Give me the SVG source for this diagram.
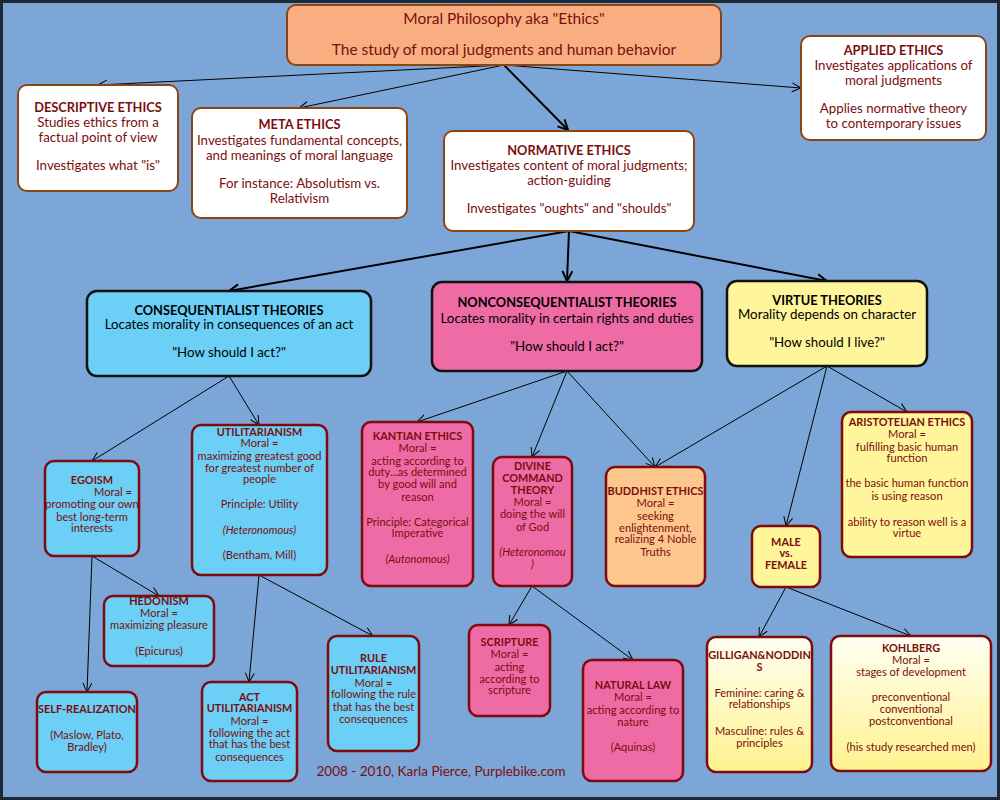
<svg xmlns="http://www.w3.org/2000/svg" width="1000" height="800" viewBox="0 0 1000 800">
<defs>
<style>
.bg{fill:#7BA6D7;stroke:#1f2a36;stroke-width:3}
.root{fill:#F9AE82;stroke:#8B4513;stroke-width:2}
.top{fill:#fff;stroke:#8B4513;stroke-width:2}
.th{stroke:#111;stroke-width:2.5}
.leaf{stroke:#7f0a0a;stroke-width:2.5}
.blue{fill:#6BCFF6}.pink{fill:#EE6BA6}.yel{fill:#FFF59B}.org{fill:#FDC68D}.grad{fill:url(#gy)}
text{font-family:Lato,"Liberation Sans",sans-serif;text-anchor:middle}
.r{font-size:15.5px;fill:#7a0e0e}
.a{font-size:13.3px;fill:#7a0e0e}
.ab{font-size:12.8px;fill:#7a0e0e;font-weight:bold}
.b{font-size:13.3px;fill:#000}
.bb{font-size:12.8px;fill:#000;font-weight:bold}
.c{font-size:11.1px;fill:#7a0e0e}
.cb{font-size:10.9px;fill:#7a0e0e;font-weight:bold}
.ci{font-size:11.1px;fill:#7a0e0e;font-style:italic}
.cr{font-size:13.5px;fill:#7a0e0e}
.ln{stroke:#000;stroke-width:1;fill:none;marker-end:url(#ah)}
.lt{stroke:#000;stroke-width:2;fill:none;marker-end:url(#ahb)}
</style>
<linearGradient id="gy" x1="0" y1="0" x2="0" y2="1">
<stop offset="0" stop-color="#FFFFF2"/>
<stop offset="1" stop-color="#FFF28E"/>
</linearGradient>
<marker id="ah" markerUnits="userSpaceOnUse" markerWidth="12" markerHeight="12" refX="10" refY="5" orient="auto" viewBox="0 0 12 10">
<path d="M1,0.5 L10,5 L1,9.5" fill="none" stroke="#000" stroke-width="1"/>
</marker>
<marker id="ahb" markerUnits="userSpaceOnUse" markerWidth="14" markerHeight="14" refX="11" refY="6" orient="auto" viewBox="0 0 14 12">
<path d="M1,1 L11,6 L1,11" fill="none" stroke="#000" stroke-width="2"/>
</marker>
</defs>
<rect class="bg" x="1.5" y="1.5" width="997" height="797"/>

<g id="connectors">
<line class="ln" x1="504" y1="65" x2="98" y2="85"/>
<line class="ln" x1="504" y1="65" x2="299" y2="108"/>
<line class="lt" x1="504" y1="65" x2="568" y2="130"/>
<line class="ln" x1="504" y1="65" x2="801" y2="88"/>
<line class="lt" x1="569" y1="231" x2="229" y2="291"/>
<line class="lt" x1="569" y1="231" x2="567" y2="281"/>
<line class="lt" x1="569" y1="231" x2="827" y2="281"/>
<line class="ln" x1="229" y1="376" x2="92" y2="461"/>
<line class="ln" x1="229" y1="376" x2="259" y2="425"/>
<line class="ln" x1="92" y1="556" x2="159" y2="596"/>
<line class="ln" x1="92" y1="556" x2="87" y2="692"/>
<line class="ln" x1="259" y1="575" x2="249" y2="682"/>
<line class="ln" x1="259" y1="575" x2="373" y2="636"/>
<line class="ln" x1="567" y1="371" x2="417" y2="422"/>
<line class="ln" x1="567" y1="371" x2="532" y2="457"/>
<line class="ln" x1="567" y1="371" x2="655" y2="467"/>
<line class="ln" x1="827" y1="366" x2="655" y2="467"/>
<line class="ln" x1="827" y1="366" x2="786" y2="526"/>
<line class="ln" x1="827" y1="366" x2="907" y2="412"/>
<line class="ln" x1="532" y1="586" x2="509" y2="625"/>
<line class="ln" x1="532" y1="586" x2="633" y2="660"/>
<line class="ln" x1="786" y1="587" x2="759" y2="637"/>
<line class="ln" x1="786" y1="587" x2="911" y2="636"/>
</g>

<g id="root">
<rect class="root" x="287" y="5" width="434" height="60" rx="9"/>
<text class="r" x="504" y="23.5">Moral Philosophy aka "Ethics"</text>
<text class="r" x="504" y="54.5">The study of moral judgments and human behavior</text>
</g>

<g id="descriptive">
<rect class="top" x="18" y="85" width="160" height="106" rx="9"/>
<text class="ab" x="98" y="111.5">DESCRIPTIVE ETHICS</text>
<text class="a" x="98" y="126.5">Studies ethics from a</text>
<text class="a" x="98" y="141.5">factual point of view</text>
<text class="a" x="98" y="169.5">Investigates what "is"</text>
</g>

<g id="meta">
<rect class="top" x="192" y="108" width="215" height="110" rx="9"/>
<text class="ab" x="299.5" y="128.5">META ETHICS</text>
<text class="a" x="299.5" y="144.5">Investigates fundamental concepts,</text>
<text class="a" x="299.5" y="159.5">and meanings of moral language</text>
<text class="a" x="299.5" y="187.5">For instance: Absolutism vs.</text>
<text class="a" x="299.5" y="202.5">Relativism</text>
</g>

<g id="normative">
<rect class="top" x="444" y="131" width="250" height="100" rx="9"/>
<text class="ab" x="569" y="154.5">NORMATIVE ETHICS</text>
<text class="a" x="569" y="169.5">Investigates content of moral judgments;</text>
<text class="a" x="569" y="184.5">action-guiding</text>
<text class="a" x="569" y="212.5">Investigates "oughts" and "shoulds"</text>
</g>

<g id="applied">
<rect class="top" x="801" y="36" width="185" height="104" rx="9"/>
<text class="ab" x="893.5" y="54.5">APPLIED ETHICS</text>
<text class="a" x="893.5" y="69.5">Investigates applications of</text>
<text class="a" x="893.5" y="84.5">moral judgments</text>
<text class="a" x="893.5" y="112.5">Applies normative theory</text>
<text class="a" x="893.5" y="127.5">to contemporary issues</text>
</g>

<g id="consequentialist">
<rect class="th blue" x="87" y="291" width="284" height="85" rx="10"/>
<text class="bb" x="229" y="314.5">CONSEQUENTIALIST THEORIES</text>
<text class="b" x="229" y="328.5">Locates morality in consequences of an act</text>
<text class="b" x="229" y="356.5">"How should I act?"</text>
</g>

<g id="nonconsequentialist">
<rect class="th pink" x="432" y="282" width="270" height="89" rx="10"/>
<text class="bb" x="567" y="306.5">NONCONSEQUENTIALIST THEORIES</text>
<text class="b" x="567" y="322.5">Locates morality in certain rights and duties</text>
<text class="b" x="567" y="350.5">"How should I act?"</text>
</g>

<g id="virtue">
<rect class="th yel" x="727" y="281" width="200" height="85" rx="10"/>
<text class="bb" x="827" y="304.5">VIRTUE THEORIES</text>
<text class="b" x="827" y="318.5">Morality depends on character</text>
<text class="b" x="827" y="346.5">"How should I live?"</text>
</g>

<g id="egoism">
<rect class="leaf blue" x="45" y="461" width="94" height="95" rx="9"/>
<text class="cb" x="92" y="484">EGOISM</text>
<text class="c" x="113" y="496">Moral =</text>
<text class="c" x="92" y="508">promoting our own</text>
<text class="c" x="92" y="521">best long-term</text>
<text class="c" x="92" y="532">interests</text>
</g>

<g id="utilitarianism">
<rect class="leaf blue" x="192" y="425" width="135" height="150" rx="9"/>
<text class="cb" x="259.5" y="436">UTILITARIANISM</text>
<text class="c" x="259.5" y="447">Moral =</text>
<text class="c" x="259.5" y="460">maximizing greatest good</text>
<text class="c" x="259.5" y="472">for greatest number of</text>
<text class="c" x="259.5" y="483">people</text>
<text class="c" x="259.5" y="508">Principle: Utility</text>
<text class="ci" x="259.5" y="534">(Heteronomous)</text>
<text class="c" x="259.5" y="559">(Bentham, Mill)</text>
</g>

<g id="hedonism">
<rect class="leaf blue" x="104" y="596" width="110" height="70" rx="9"/>
<text class="cb" x="159" y="605">HEDONISM</text>
<text class="c" x="159" y="617">Moral =</text>
<text class="c" x="159" y="629">maximizing pleasure</text>
<text class="c" x="159" y="655">(Epicurus)</text>
</g>

<g id="self-realization">
<rect class="leaf blue" x="37" y="692" width="100" height="80" rx="9"/>
<text class="cb" x="87" y="713">SELF-REALIZATION</text>
<text class="c" x="87" y="739">(Maslow, Plato,</text>
<text class="c" x="87" y="751">Bradley)</text>
</g>

<g id="act-utilitarianism">
<rect class="leaf blue" x="202" y="682" width="95" height="99" rx="9"/>
<text class="cb" x="249.5" y="701">ACT</text>
<text class="cb" x="249.5" y="712">UTILITARIANISM</text>
<text class="c" x="249.5" y="725">Moral =</text>
<text class="c" x="249.5" y="737">following the act</text>
<text class="c" x="249.5" y="748">that has the best</text>
<text class="c" x="249.5" y="761">consequences</text>
</g>

<g id="rule-utilitarianism">
<rect class="leaf blue" x="328" y="636" width="91" height="115" rx="9"/>
<text class="cb" x="373.5" y="662">RULE</text>
<text class="cb" x="373.5" y="674">UTILITARIANISM</text>
<text class="c" x="373.5" y="687">Moral =</text>
<text class="c" x="373.5" y="698">following the rule</text>
<text class="c" x="373.5" y="711">that has the best</text>
<text class="c" x="373.5" y="723">consequences</text>
</g>

<g id="kantian">
<rect class="leaf pink" x="362" y="422" width="111" height="164" rx="9"/>
<text class="cb" x="417.5" y="440">KANTIAN ETHICS</text>
<text class="c" x="417.5" y="452">Moral =</text>
<text class="c" x="417.5" y="465">acting according to</text>
<text class="c" x="417.5" y="476">duty...as determined</text>
<text class="c" x="417.5" y="488">by good will and</text>
<text class="c" x="417.5" y="501">reason</text>
<text class="c" x="417.5" y="526">Principle: Categorical</text>
<text class="c" x="417.5" y="537">Imperative</text>
<text class="ci" x="417.5" y="563">(Autonomous)</text>
</g>

<g id="divine-command">
<rect class="leaf pink" x="493" y="457" width="79" height="129" rx="9"/>
<text class="cb" x="532.5" y="470">DIVINE</text>
<text class="cb" x="532.5" y="482">COMMAND</text>
<text class="cb" x="532.5" y="494">THEORY</text>
<text class="c" x="532.5" y="506">Moral =</text>
<text class="c" x="532.5" y="518">doing the will</text>
<text class="c" x="532.5" y="531">of God</text>
<text class="ci" x="532.5" y="556">(Heteronomou</text>
<text class="ci" x="532.5" y="568">)</text>
</g>

<g id="buddhist">
<rect class="leaf org" x="606" y="467" width="99" height="119" rx="9"/>
<text class="cb" x="655.5" y="495">BUDDHIST ETHICS</text>
<text class="c" x="655.5" y="507">Moral =</text>
<text class="c" x="655.5" y="520">seeking</text>
<text class="c" x="655.5" y="532">enlightenment,</text>
<text class="c" x="655.5" y="543">realizing 4 Noble</text>
<text class="c" x="655.5" y="556">Truths</text>
</g>

<g id="scripture">
<rect class="leaf pink" x="469" y="625" width="81" height="91" rx="9"/>
<text class="cb" x="509.5" y="646">SCRIPTURE</text>
<text class="c" x="509.5" y="658">Moral =</text>
<text class="c" x="509.5" y="671">acting</text>
<text class="c" x="509.5" y="683">according to</text>
<text class="c" x="509.5" y="694">scripture</text>
</g>

<g id="natural-law">
<rect class="leaf pink" x="583" y="660" width="100" height="121" rx="9"/>
<text class="cb" x="633" y="689">NATURAL LAW</text>
<text class="c" x="633" y="701">Moral =</text>
<text class="c" x="633" y="714">acting according to</text>
<text class="c" x="633" y="726">nature</text>
<text class="c" x="633" y="751">(Aquinas)</text>
</g>

<g id="aristotelian">
<rect class="leaf yel" x="842" y="412" width="130" height="145" rx="9"/>
<text class="cb" x="907" y="426">ARISTOTELIAN ETHICS</text>
<text class="c" x="907" y="438">Moral =</text>
<text class="c" x="907" y="451">fulfilling basic human</text>
<text class="c" x="907" y="462">function</text>
<text class="c" x="907" y="487">the basic human function</text>
<text class="c" x="907" y="500">is using reason</text>
<text class="c" x="907" y="526">ability to reason well is a</text>
<text class="c" x="907" y="537">virtue</text>
</g>

<g id="male-vs-female">
<rect class="leaf yel" x="752" y="526" width="68" height="61" rx="9"/>
<text class="cb" x="786" y="546">MALE</text>
<text class="cb" x="786" y="557">vs.</text>
<text class="cb" x="786" y="569">FEMALE</text>
</g>

<g id="gilligan">
<rect class="leaf grad" x="707" y="637" width="105" height="135" rx="9"/>
<text class="cb" x="759.5" y="659">GILLIGAN&amp;NODDIN</text>
<text class="cb" x="759.5" y="671">S</text>
<text class="c" x="759.5" y="697">Feminine: caring &amp;</text>
<text class="c" x="759.5" y="708">relationships</text>
<text class="c" x="759.5" y="735">Masculine: rules &amp;</text>
<text class="c" x="759.5" y="747">principles</text>
</g>

<g id="kohlberg">
<rect class="leaf grad" x="831" y="636" width="160" height="135" rx="9"/>
<text class="cb" x="911" y="652">KOHLBERG</text>
<text class="c" x="911" y="664">Moral =</text>
<text class="c" x="911" y="676">stages of development</text>
<text class="c" x="911" y="701">preconventional</text>
<text class="c" x="911" y="713">conventional</text>
<text class="c" x="911" y="725">postconventional</text>
<text class="c" x="911" y="751">(his study researched men)</text>
</g>

<g id="credit">
<text class="cr" x="441" y="776">2008 - 2010, Karla Pierce, Purplebike.com</text>
</g>
</svg>
